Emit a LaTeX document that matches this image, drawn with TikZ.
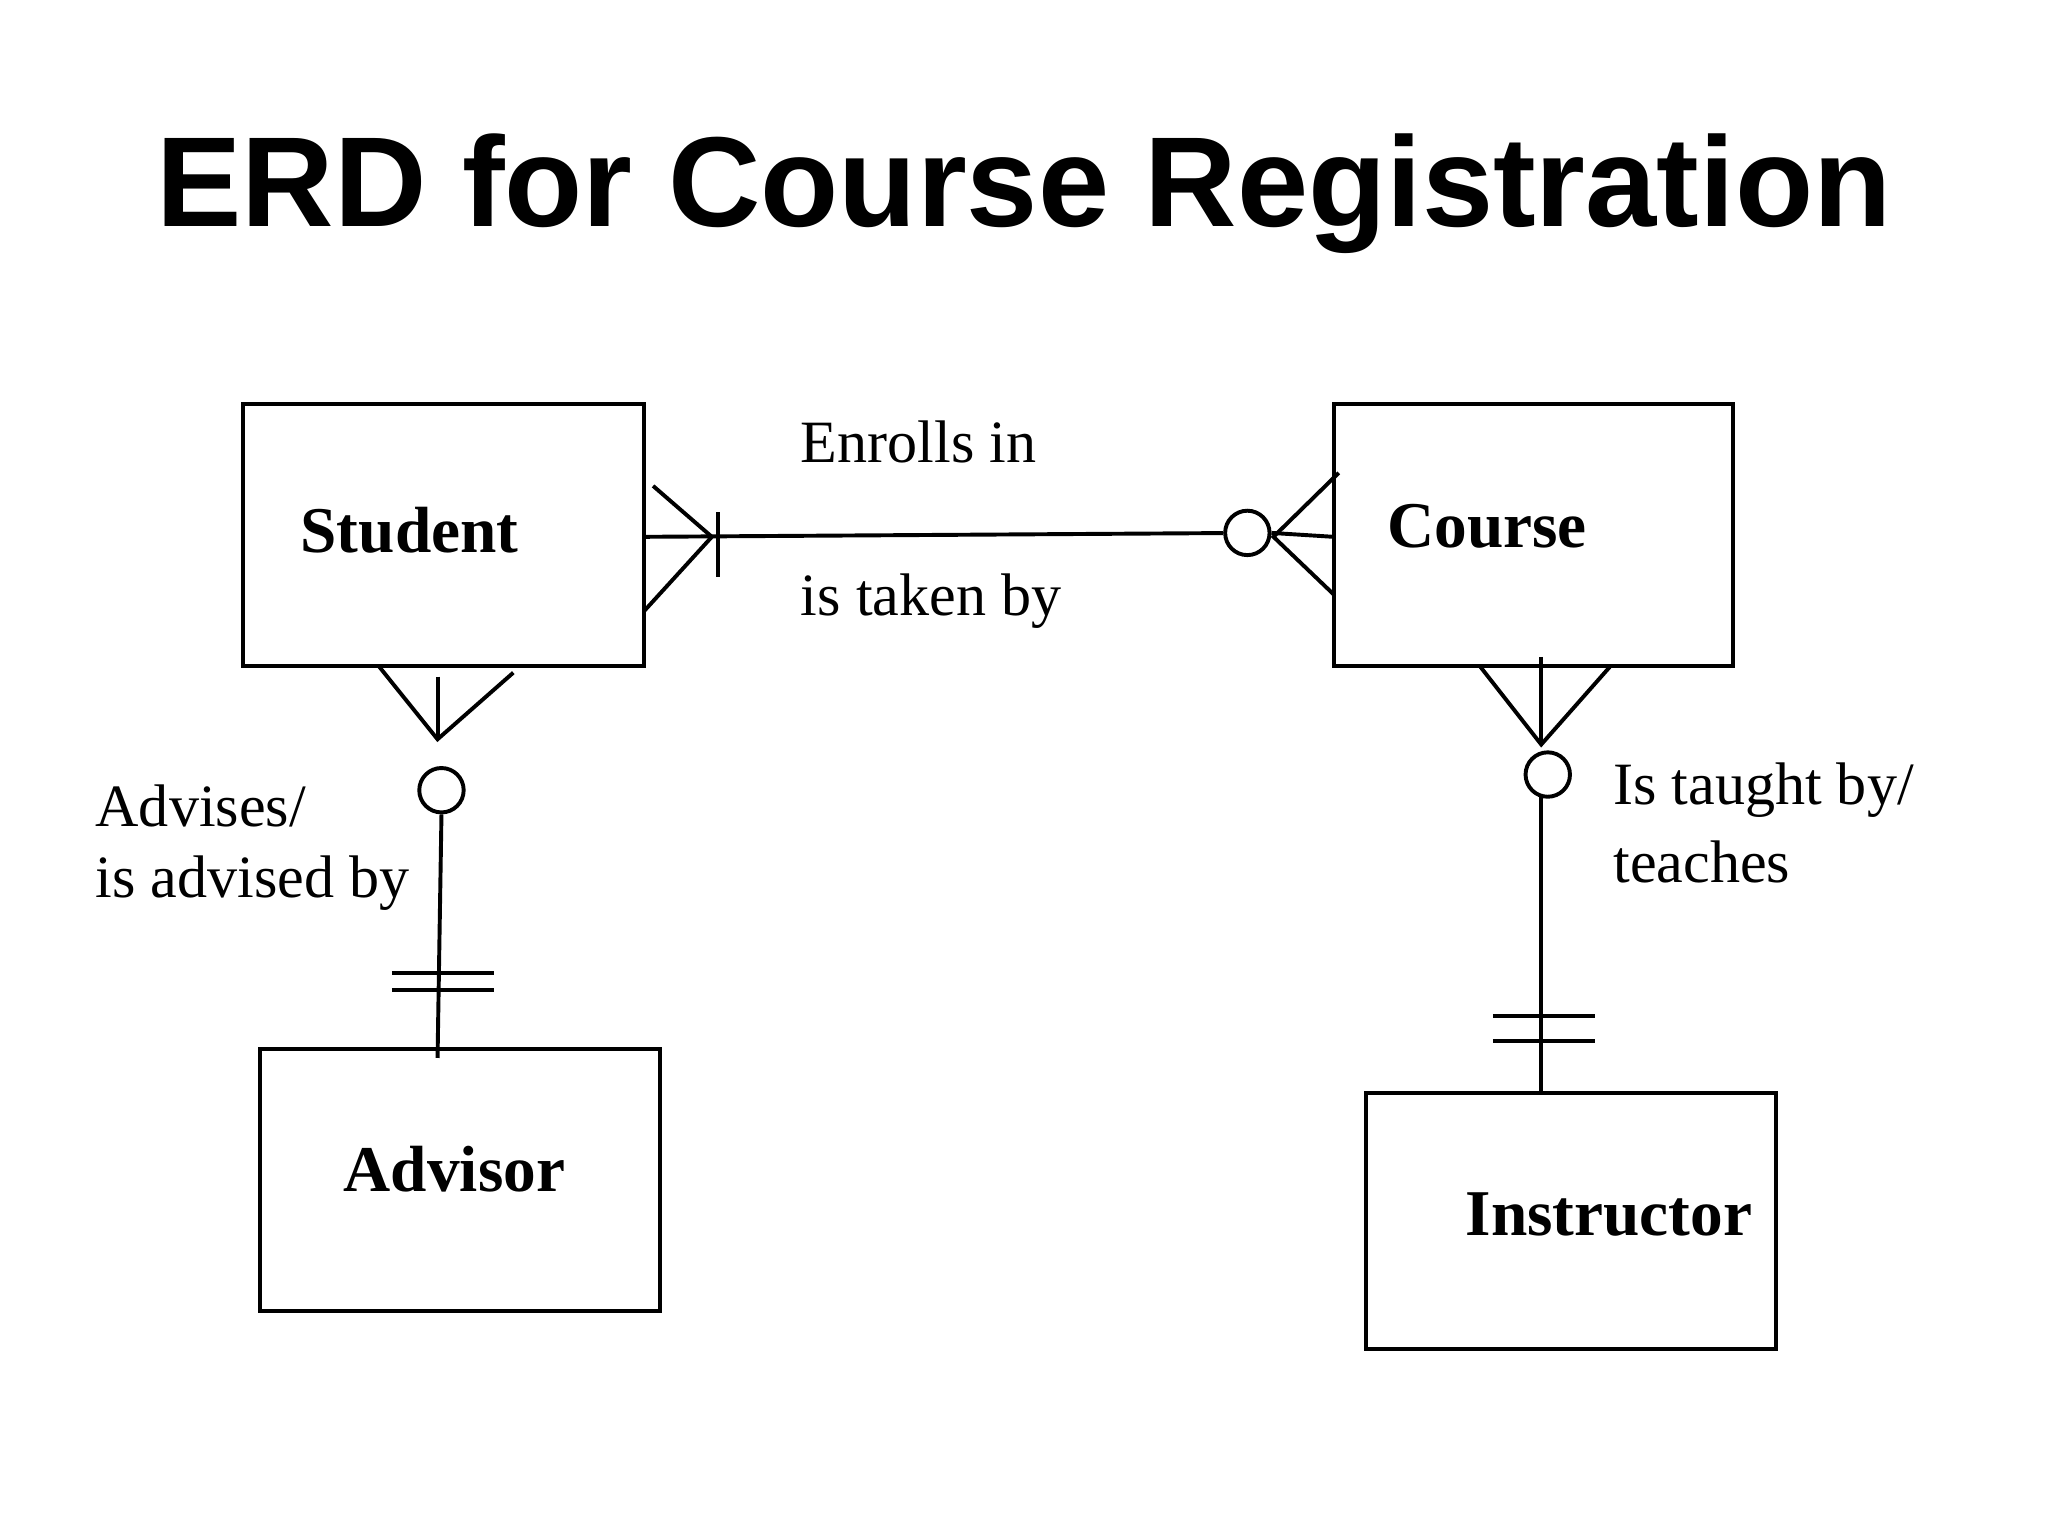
\documentclass[tikz,border=0pt]{standalone}
\usepackage{fontspec}
\setmainfont{Liberation Serif}
\newfontfamily\titlefont{Liberation Sans}
\begin{document}
\begin{tikzpicture}[x=1pt,y=-1pt,
  ent/.style={draw,line width=3pt,inner sep=0pt},
  ln/.style={line width=3pt},
  lbl/.style={anchor=west,inner sep=0pt,font=\fontsize{46}{54}\selectfont},
  ename/.style={anchor=west,inner sep=0pt,font=\fontsize{50}{58}\selectfont\bfseries},
  circ/.style={draw,line width=3pt,circle,minimum size=34pt,inner sep=0pt}]
\useasboundingbox (0,0) rectangle (1568,1176);
\node[inner sep=0pt,font=\fontsize{98}{110}\selectfont\titlefont\bfseries] (title) at (784,148) {ERD for Course Registration};
% entities
\draw[ln] (186,309) rectangle (493,510);
\draw[ln] (1021,309) rectangle (1327,510);
\draw[ln] (199,803) rectangle (505,1004);
\draw[ln] (1046,837) rectangle (1360,1033);
\node[ename] (student) at (230,406) {Student};
\node[ename] (course) at (1062,403) {Course};
\node[ename] (advisor) at (263,895) {Advisor};
\node[ename] (instructor) at (1122,930) {Instructor};
% Enrolls
\node[circ] (c1) at (955,408) {};
\coordinate (s1) at (493,411);
\draw[ln] (s1) -- (c1);
\draw[ln] (500,372) -- (545,411) -- (493,468);
\draw[ln] (550,392) -- (550,442);
\draw[ln] (c1.east) -- (1021,411);
\draw[ln] (1025,362) -- (975,411) -- (1021,455);
\node[lbl] (l1) at (613,338) {Enrolls in};
\node[lbl] (l2) at (613,460) {is taken by};
% Advises
\node[circ] (c2) at (338,605) {};
\draw[ln] (335,518) -- (335,566);
\draw[ln] (290,510) -- (335,566) -- (393,515);
\draw[ln] (c2.south) -- (335,810);
\draw[ln] (300,745) -- (378,745);
\draw[ln] (300,758) -- (378,758);
\node[lbl] (l3) at (73,617) {Advises/};
\node[lbl] (l4) at (73,676) {is advised by};
% Taught
\node[circ] (c3) at (1185,593) {};
\draw[ln] (1180,503) -- (1180,570);
\draw[ln] (1133,510) -- (1180,570) -- (1233,510);
\draw[ln] (1180,610) -- (1180,837);
\draw[ln] (1143,778) -- (1221,778);
\draw[ln] (1143,797) -- (1221,797);
\node[lbl] (l5) at (1235,605) {Is taught by/};
\node[lbl] (l6) at (1235,660) {teaches};
\end{tikzpicture}
\end{document}
